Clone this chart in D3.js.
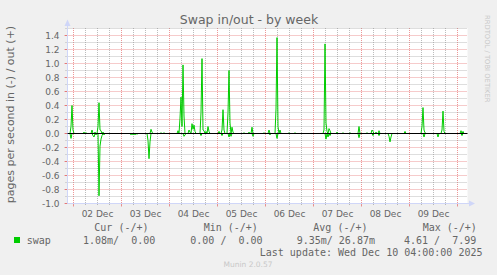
<!DOCTYPE html>
<html><head><meta charset="utf-8">
<script src="https://cdn.jsdelivr.net/npm/d3@7"></script>
<style>html,body{margin:0;padding:0;background:#f0f0f0;}svg{display:block}</style>
</head><body><svg id="c" width="497" height="275"></svg>
<script>
// ---- data ----
const title = "Swap in/out - by week";
const yLabel = "pages per second in (-) / out (+)";
const watermark = "RRDTOOL / TOBI OETIKER";
const footer = "Munin 2.0.57";
const yTicks = [-1.0, -0.8, -0.6, -0.4, -0.2, 0.0, 0.2, 0.4, 0.6, 0.8, 1.0, 1.2, 1.4];
const dayLabels = ["02 Dec", "03 Dec", "04 Dec", "05 Dec", "06 Dec", "07 Dec", "08 Dec", "09 Dec"];
const rangeStart = Date.UTC(2025, 11, 1, 21, 0);
const rangeEnd = Date.UTC(2025, 11, 10, 5, 0);
const stepMinutes = 30;
const nPoints = 400;
// non-zero samples: [sample index, pages/s]
const swapOut = [
  [3,0.10],[4,0.40],[5,0.05],[16,0.02],[18,0.01],[24,0.05],[27,0.02],
  [30,0.10],[31,0.44],[32,0.05],[33,0.04],[35,0.02],
  [83,0.06],[84,0.02],[93,0.01],[96,0.01],
  [110,0.04],[112,0.22],[113,0.52],[114,0.10],[115,0.98],[116,0.25],
  [121,0.05],[122,0.02],[124,0.14],[125,0.06],[126,0.12],[127,0.03],
  [133,0.30],[134,1.07],[135,0.05],[136,0.04],[138,0.03],[140,0.10],[141,0.03],
  [151,0.03],[154,0.05],[155,0.34],[156,0.05],
  [160,0.30],[161,0.90],[162,0.15],[164,0.09],[165,0.02],
  [176,0.01],[181,0.02],[184,0.09],[196,0.01],[201,0.05],
  [208,0.35],[209,1.37],[210,0.10],[212,0.05],[221,0.01],[227,0.01],
  [256,0.05],[257,1.28],[258,0.15],[259,0.03],[261,0.07],[262,0.04],
  [269,0.02],[275,0.01],[282,0.01],
  [291,0.10],[299,0.01],[304,0.05],[305,0.03],[308,0.02],[311,0.04],
  [337,0.03],[354,0.10],[355,0.37],[356,0.05],[357,0.01],
  [374,0.05],[375,0.32],[376,0.03],[393,0.04],[395,0.03]
];
const swapIn = [
  [3,0.07],[25,0.03],[26,0.05],[28,0.02],
  [31,0.89],[32,0.18],[33,0.08],[34,0.03],[36,0.02],
  [63,0.02],[65,0.02],[67,0.02],[69,0.01],
  [80,0.10],[81,0.36],[82,0.12],
  [116,0.04],[117,0.02],[133,0.03],[154,0.03],[161,0.05],[163,0.04],[185,0.04],
  [202,0.02],[209,0.07],[258,0.08],[260,0.05],[262,0.03],
  [291,0.06],[305,0.03],[311,0.03],[321,0.04],[322,0.12],[323,0.05],
  [356,0.05],[370,0.05],[394,0.03]
];
const legendName = "swap";
const legendHeaders = ["Cur (-/+)", "Min (-/+)", "Avg (-/+)", "Max (-/+)"];
const legendValues = ["1.08m/  0.00", "0.00 /  0.00", "9.35m/ 26.87m", "4.61 /  7.99"];
const lastUpdate = "Last update: Wed Dec 10 04:00:00 2025";

// ---- chart ----
const svg = d3.select("#c");
const L = 67.5, R = 467.5, T = 28.5, B = 203.5;
const x = d3.scaleUtc().domain([rangeStart, rangeEnd]).range([L, R]);
const y = d3.scaleLinear().domain([-1.0, 1.5]).range([B, T]);
const FONT = "#666666";
const MINOR = "rgba(143,143,143,0.6)";
const MAJOR = "rgba(222,48,48,0.5)";
const AXIS = "#CFD6F8";

svg.append("rect").attr("width", 497).attr("height", 275).attr("fill", "#f0f0f0");
svg.append("rect").attr("x", L).attr("y", T - 0.5).attr("width", R - L).attr("height", B - T + 0.5).attr("fill", "#ffffff");

const minorTimes = d3.utcHour.every(6).range(new Date(rangeStart), new Date(rangeEnd + 1));
const majorTimes = d3.utcDay.range(new Date(rangeStart), new Date(rangeEnd + 1));
const g = svg.append("g");
// vertical grid
minorTimes.filter(t => t.getUTCHours() !== 0).forEach(t => {
  const xx = Math.round(x(t) - 0.5) + 0.5;
  g.append("line").attr("x1", xx).attr("x2", xx).attr("y1", T - 0.5).attr("y2", B + 2)
    .attr("stroke", MINOR).attr("stroke-dasharray", "1,1");
});
majorTimes.forEach(t => {
  const xx = Math.round(x(t) - 0.5) + 0.5;
  g.append("line").attr("x1", xx).attr("x2", xx).attr("y1", T - 0.5).attr("y2", B)
    .attr("stroke", MAJOR).attr("stroke-dasharray", "1,1");
  g.append("line").attr("x1", xx).attr("x2", xx).attr("y1", B).attr("y2", B + 3)
    .attr("stroke", MAJOR);
});
// horizontal grid
const minorY = d3.range(-10, 16).map(k => k / 10);
minorY.forEach(v => {
  const isMajor = Math.abs(Math.round(v * 10)) % 2 === 0;
  const yy = y(v);
  g.append("line").attr("x1", L - 2).attr("x2", R).attr("y1", yy).attr("y2", yy)
    .attr("stroke", (isMajor && v <= 1.4) ? MAJOR : MINOR).attr("stroke-dasharray", "1,1");
  if (isMajor && v <= 1.4) {
    g.append("line").attr("x1", L - 3).attr("x2", L).attr("y1", yy).attr("y2", yy).attr("stroke", MAJOR);
  }
});

// axes
svg.append("line").attr("x1", L).attr("x2", 471).attr("y1", B).attr("y2", B).attr("stroke", AXIS);
svg.append("line").attr("x1", L).attr("x2", L).attr("y1", B).attr("y2", 24).attr("stroke", AXIS);
svg.append("path").attr("d", "M469,200.5L475,203.5L469,206.5Z").attr("fill", AXIS);
svg.append("path").attr("d", "M64.5,26L67.5,19.5L70.5,26Z").attr("fill", AXIS);

// tick labels
svg.append("g").selectAll("text").data(yTicks).join("text")
  .attr("x", 59.5).attr("y", d => y(d)).attr("dy", "0.36em")
  .attr("text-anchor", "end").attr("font-family", "DejaVu Sans").attr("font-size", 9)
  .attr("fill", FONT).text(d => d.toFixed(1));
svg.append("g").selectAll("text").data(dayLabels).join("text")
  .attr("x", (d, i) => x(Date.UTC(2025, 11, 2 + i, 12))).attr("y", 216.5)
  .attr("text-anchor", "middle").attr("font-family", "DejaVu Sans").attr("font-size", 9)
  .attr("fill", FONT).text(d => d);

// series
function fullSeries(sparse, sign) {
  const arr = new Array(nPoints).fill(0);
  sparse.forEach(([i, v]) => { arr[i] = sign * v; });
  return arr;
}
const outVals = fullSeries(swapOut, 1);
const inVals = fullSeries(swapIn, -1);
const line = d3.line()
  .x((d, i) => x(rangeStart + i * stepMinutes * 60e3) + 0.5)
  .y(d => y(d));
svg.append("path").datum(inVals).attr("d", line).attr("fill", "none").attr("stroke", "#00CC00").attr("stroke-width", 1);
svg.append("path").datum(outVals).attr("d", line).attr("fill", "none").attr("stroke", "#00CC00").attr("stroke-width", 1);
// zero rule
svg.append("line").attr("x1", L).attr("x2", R).attr("y1", y(0)).attr("y2", y(0)).attr("stroke", "#000").attr("stroke-width", 1);

// titles
svg.append("text").attr("x", 249).attr("y", 23.5).attr("text-anchor", "middle")
  .attr("font-family", "DejaVu Sans").attr("font-size", 12.5).attr("fill", FONT).text(title);
svg.append("text").attr("transform", "translate(14,114.5) rotate(-90)").attr("text-anchor", "middle")
  .attr("font-family", "DejaVu Sans").attr("font-size", 11).attr("fill", FONT).text(yLabel);
svg.append("text").attr("transform", "translate(485,15) rotate(90)").attr("text-anchor", "start")
  .attr("font-family", "DejaVu Sans").attr("font-size", 6.8).attr("fill", "#c8c8c8").text(watermark);

// legend
const mono = "DejaVu Sans Mono";
const headerX = [94.3, 203.7, 313.3, 422.7];
const valueX = [83, 190.3, 296.7, 404];
svg.append("g").selectAll("text").data(legendHeaders).join("text")
  .attr("x", (d, i) => headerX[i]).attr("y", 230.5).style("white-space", "pre")
  .attr("font-family", mono).attr("font-size", 10).attr("fill", FONT).text(d => d);
svg.append("rect").attr("x", 14).attr("y", 237).attr("width", 6).attr("height", 6).attr("fill", "#00CC00");
svg.append("text").attr("x", 26.7).attr("y", 243.5).attr("font-family", mono).attr("font-size", 10).attr("fill", FONT).text(legendName);
svg.append("g").selectAll("text").data(legendValues).join("text")
  .attr("x", (d, i) => valueX[i]).attr("y", 243.5).style("white-space", "pre")
  .attr("font-family", mono).attr("font-size", 10).attr("fill", FONT).text(d => d);
svg.append("text").attr("x", 482.5).attr("y", 255.5).attr("text-anchor", "end").style("white-space", "pre")
  .attr("font-family", mono).attr("font-size", 10).attr("fill", FONT).text(lastUpdate);
svg.append("text").attr("x", 248).attr("y", 267).attr("text-anchor", "middle")
  .attr("font-family", "DejaVu Sans").attr("font-size", 7.5).attr("fill", "#c8c8c8").text(footer);
</script></body></html>
